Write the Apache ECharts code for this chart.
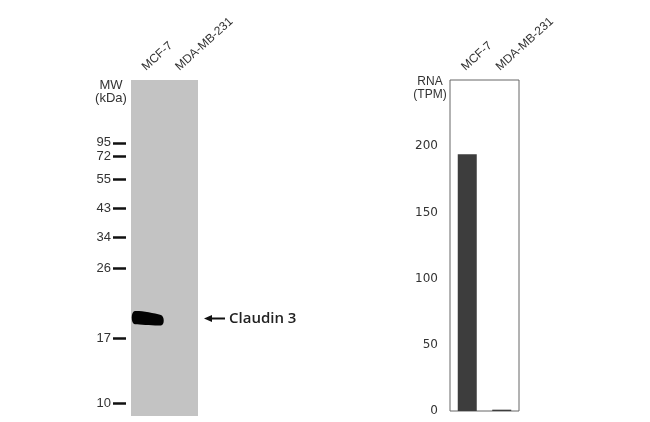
<!DOCTYPE html>
<html><head><meta charset="utf-8">
<script src="https://cdn.jsdelivr.net/npm/echarts@6/dist/echarts.min.js"></script>
<style>html,body{margin:0;padding:0;background:#fff}#c{width:650px;height:422px}</style>
</head><body><div id="c"></div>
<script>
// Western blot lanes
const lanes = ['MCF-7', 'MDA-MB-231'];
// MW marker labels (kDa) and migration position (% of lane length from top)
const mwLabels = ['95', '72', '55', '43', '34', '26', '17', '10'];
const mwPos = [18.7, 22.6, 29.6, 38.2, 46.8, 56.0, 76.9, 96.2];
// Detected band (Claudin 3)
const bandLanes = ['MCF-7'];
const bandPos = [70.9];
const bandName = 'Claudin 3';
// RNA expression (TPM)
const rnaCategories = ['MCF-7', 'MDA-MB-231'];
const rnaValues = [194, 1];

const chart = echarts.init(document.getElementById('c'), null, {renderer: 'canvas'});
const gray = '#333';
const blotGrid = {left: 131, top: 80, width: 67, height: 336};
const barGrid = {left: 450, top: 80, width: 69, height: 331};

const bandPath = 'path://M3,0 C10,-0.3 22,2 29,3.8 C32.8,5 32.8,13.8 29,14 C20,14.2 9,13.2 3,12.8 C-1,12.2 -1,0.5 3,0 Z';

chart.setOption({
  animation: false,
  grid: [
    Object.assign({show: true, backgroundColor: '#c3c3c3', borderWidth: 0}, blotGrid),
    Object.assign({show: true, backgroundColor: '#fff', borderColor: '#666', borderWidth: 1}, barGrid)
  ],
  xAxis: [
    {type: 'category', gridIndex: 0, data: lanes, position: 'top',
     axisLine: {show: false}, axisTick: {show: false},
     axisLabel: {rotate: 42, margin: 7, color: gray, fontSize: 12, fontFamily: 'Liberation Sans, Arial', verticalAlign: 'bottom'}},
    {type: 'category', gridIndex: 1, data: rnaCategories, position: 'top',
     axisLine: {show: false}, axisTick: {show: false},
     axisLabel: {rotate: 42, margin: 7, color: gray, fontSize: 12, fontFamily: 'Liberation Sans, Arial', verticalAlign: 'bottom'}}
  ],
  yAxis: [
    {type: 'value', gridIndex: 0, min: 0, max: 100, inverse: true, offset: 5,
     splitLine: {show: false}, axisLine: {show: false},
     axisTick: {show: true, customValues: mwPos, length: 13, lineStyle: {color: '#111', width: 2.5}},
     axisLabel: {customValues: mwPos, margin: 15, color: gray, fontSize: 13, fontFamily: 'Liberation Sans, Arial',
       formatter: function (v) {
         let best = 0;
         for (let i = 0; i < mwPos.length; i++) if (Math.abs(mwPos[i] - v) < Math.abs(mwPos[best] - v)) best = i;
         return mwLabels[best];
       }}},
    {type: 'value', gridIndex: 1, min: 0, max: 250, interval: 50,
     splitLine: {show: false}, axisLine: {show: false}, axisTick: {show: false},
     axisLabel: {margin: 12, color: gray, fontSize: 12, fontFamily: 'DejaVu Sans', showMaxLabel: false}}
  ],
  series: [
    {type: 'scatter', xAxisIndex: 0, yAxisIndex: 0,
     data: bandLanes.map((l, i) => [l, bandPos[i]]),
     symbol: bandPath, symbolKeepAspect: false, symbolSize: [32, 14.5],
     itemStyle: {color: '#030303', opacity: 1}, silent: true},
    {type: 'bar', xAxisIndex: 1, yAxisIndex: 1, data: rnaValues, barWidth: 19,
     itemStyle: {color: '#3d3d3d'}, silent: true}
  ]
});

// annotation: arrow + protein name, positioned from the band's pixel location
const bp = chart.convertToPixel({seriesIndex: 0}, [bandLanes[0], bandPos[0]]);
const laneRight = blotGrid.left + blotGrid.width;
const ay = Math.round(bp[1]) + 0.5;
const ax0 = laneRight + 6, ax1 = laneRight + 27;
chart.setOption({
  graphic: [
    {type: 'line', shape: {x1: ax0 + 5, y1: ay, x2: ax1, y2: ay}, style: {stroke: '#111', lineWidth: 2}, silent: true},
    {type: 'polygon', shape: {points: [[ax0, ay], [ax0 + 8, ay - 3.5], [ax0 + 8, ay + 3.5]]}, style: {fill: '#111'}, silent: true},
    {type: 'text', style: {text: bandName, x: ax1 + 4, y: ay, textAlign: 'left', textVerticalAlign: 'middle',
      font: '600 15px "Open Sans"', fill: '#222'}, silent: true},
    {type: 'text', style: {text: 'MW\n(kDa)', x: 111, y: 79, textAlign: 'center', textVerticalAlign: 'top',
      font: '13px "Liberation Sans"', lineHeight: 13, fill: gray}, silent: true},
    {type: 'text', style: {text: 'RNA\n(TPM)', x: 430, y: 75, textAlign: 'center', textVerticalAlign: 'top',
      font: '12px "Liberation Sans"', lineHeight: 13, fill: gray}, silent: true}
  ]
});
</script></body></html>
